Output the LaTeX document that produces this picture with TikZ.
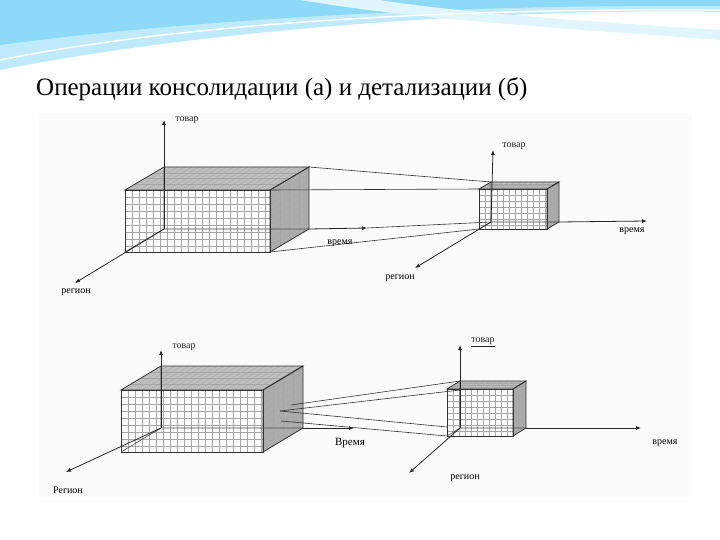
\documentclass[tikz,border=0pt]{standalone}
\usepackage{fontspec}
\setmainfont{Liberation Serif}
\usetikzlibrary{arrows.meta}
\tikzset{
  gridln/.style={gray!70,line width=0.3pt},
  edge/.style={black!80,line width=0.8pt},
  axis/.style={black!85,line width=0.8pt,-{Latex[length=5pt,width=4pt]}},
  link/.style={black!80,line width=0.6pt},
  lbl/.style={font=\fontsize{10}{11}\selectfont,inner sep=1pt},
}
% name, x, y (front top-left), w, h, dx, dy, cell
\newcommand\mycube[8]{%
  \coordinate (#1ftl) at (#2,#3);
  \coordinate (#1ftr) at (#2+#4,#3);
  \coordinate (#1fbl) at (#2,#3+#5);
  \coordinate (#1fbr) at (#2+#4,#3+#5);
  \coordinate (#1btl) at (#2+#6,#3+#7);
  \coordinate (#1btr) at (#2+#4+#6,#3+#7);
  \coordinate (#1bbl) at (#2+#6,#3+#5+#7);
  \coordinate (#1bbr) at (#2+#4+#6,#3+#5+#7);
  \fill[gray!50] (#1ftl)--(#1btl)--(#1btr)--(#1ftr)--cycle;
  \fill[gray!65] (#1ftr)--(#1btr)--(#1bbr)--(#1fbr)--cycle;
  \begin{scope}
    \clip (#1ftl) rectangle (#1fbr);
    \draw[gridln,step=#8pt,shift={(#2,#3)}] (0,0) grid (#4,#5);
  \end{scope}
  \pgfmathsetmacro\nw{int(#4/#8)}
  \pgfmathsetmacro\nh{int(#5/#8)}
  \foreach \k in {1,...,\nw}{\draw[gridln] (#2+\k*#8,#3)--++(#6,#7);}
  \foreach \k in {1,...,\nh}{\draw[gridln] (#2+#4,#3+\k*#8)--++(#6,#7);}
  \foreach \f in {0.25,0.5,0.75}{
    \draw[gridln] (#2+\f*#6,#3+\f*#7)--++(#4,0)--++(0,#5);}
  \draw[edge] (#1ftl)--(#1btl)--(#1btr)--(#1ftr)--cycle;
  \draw[edge] (#1ftr)--(#1btr)--(#1bbr)--(#1fbr)--cycle;
  \draw[edge] (#1ftl) rectangle (#1fbr);
  \draw[black!70,line width=0.6pt] (#1btl)--(#1bbl)--(#1bbr) (#1bbl)--(#1fbl);
}
\begin{document}
\begin{tikzpicture}[x=1pt,y=-1pt]
\useasboundingbox (0,0) rectangle (720,540);
\fill[white] (0,0) rectangle (720,540);
% header swooshes
\fill[cyan!25] (0,0)--(720,0)--(720,12) .. controls (500,8) and (200,30) .. (0,70)--cycle;
\fill[cyan!45] (0,0)--(720,0)--(720,6) .. controls (480,4) and (200,18) .. (0,45)--cycle;
\fill[cyan!12] (300,0) .. controls (420,20) and (560,28) .. (720,40)--(720,30) .. controls (560,20) and (440,10) .. (380,0)--cycle;
\draw[white,line width=1.5pt] (0,60) .. controls (200,20) and (480,8) .. (720,10);
\node[anchor=west,font=\fontsize{25}{28}\selectfont,inner sep=0pt] (title) at (36,89) {Операции консолидации (а) и детализации (б)};
\fill[gray!3] (38,113) rectangle (692,497);
% ---------- (a)
\mycube{A}{125}{190}{145}{62}{39}{-23}{7}
\mycube{B}{479}{189}{68}{40}{12}{-7}{6}
\draw[axis] (Abbl)--(164,120) node[lbl,anchor=west,xshift=10pt] (at1) {товар};
\draw[axis] (Abbl)--(75,283);
\node[lbl] (ar1) at (76,292) {регион};
\draw[link] (Abtr)--(Bbtl);
\draw[link] (Aftr)--(Bftl);
\draw[link] (Afbr)--(Bfbl);
\coordinate (Aend) at (367,228);
\draw[axis] (Abbr)--(Aend);
\draw[link] (Aend)--(Bbbl);
\node[lbl] (av1) at (340,243) {время};
\draw[axis] (Bbbl)--(493,150) node[lbl,anchor=west,xshift=8pt,yshift=4pt] (bt1) {товар};
\draw[axis] (Bbbr)--(647,221);
\node[lbl] (bv1) at (632,231) {время};
\draw[axis] (Bbbl)--(415,268);
\node[lbl] (br1) at (400,278) {регион};
% ---------- (b)
\mycube{C}{121}{390}{142}{62}{40}{-24}{7}
\mycube{D}{447}{389}{66}{47}{13}{-8}{6}
\draw[axis] (Cbbl)--(161,350) node[lbl,anchor=west,xshift=10pt,yshift=3pt] (ct1) {товар};
\draw[axis] (Cbbl)--(66,472);
\node[lbl] (cr1) at (68,490) {Регион};
\draw[axis] (Cbbr)--(354,428);
\node[lbl,font=\fontsize{11}{12}\selectfont] (cv1) at (350,443) {Время};
\coordinate (c1) at (291,405);
\coordinate (c2) at (280,411);
\coordinate (c3) at (281,421);
\draw[link] (c1)--(Dbtl);
\draw[link] (c2)--(460,390);
\draw[link] (c2)--(447,427);
\draw[link] (c3)--(Dfbl);
\draw[axis] (Dbbl)--(460,345) node[lbl,anchor=west,xshift=10pt,yshift=3pt] (dt1) {\underline{товар}};
\draw[axis] (Dbbr)--(641,428);
\node[lbl] (dv1) at (665,443) {время};
\draw[axis] (Dbbl)--(409,473);
\node[lbl] (dr1) at (465,478) {регион};
\end{tikzpicture}
\end{document}
